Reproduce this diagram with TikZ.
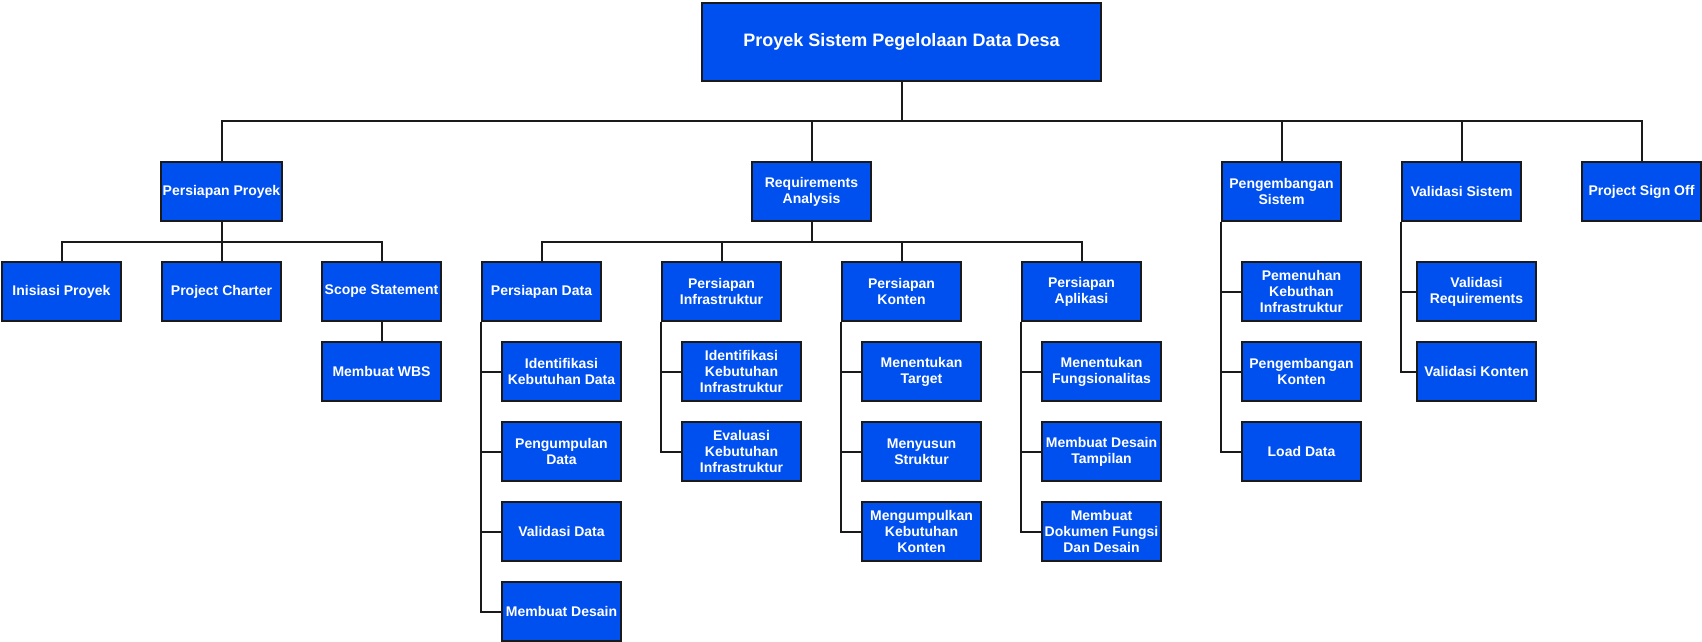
\documentclass[tikz,border=0pt]{standalone}
\usepackage{fontspec}
\setmainfont{Liberation Sans}
\usepackage{tikz}
\usetikzlibrary{calc}
\usetikzlibrary{positioning}

\definecolor{wbsblue}{HTML}{0050EF}
\definecolor{wbsline}{HTML}{1A1A1A}

\tikzset{
  wbsbox/.style={draw=wbsline, line width=1.5pt, fill=wbsblue, text=white,
    font=\fontsize{10.5}{12}\selectfont\bfseries, align=center,
    minimum width=89.25pt, minimum height=44.25pt, inner sep=1pt},
  rootbox/.style={wbsbox, font=\fontsize{13.5}{16}\selectfont\bfseries,
    minimum width=299.25pt, minimum height=58.5pt},
  wbslink/.style={draw=wbsline, line width=1.5pt}
}

\begin{document}
\begin{tikzpicture}[x=0.75pt,y=-0.75pt]
      \useasboundingbox (0,0) rectangle (1702,642);
      % root
      \node[rootbox] (root) at (901.5,41.7) {Proyek Sistem Pegelolaan Data Desa};
      % level 1
      \node[wbsbox] (pp) at (221.5,191.5) {Persiapan Proyek};
      \node[wbsbox] (ra) at (811.5,191.5) {Requirements\\Analysis};
      \node[wbsbox] (ps) at (1281.5,191.5) {Pengembangan\\Sistem};
      \node[wbsbox] (vs) at (1461.5,191.5) {Validasi Sistem};
      \node[wbsbox] (pso) at (1641.5,191.5) {Project Sign Off};
      % persiapan proyek
      \node[wbsbox] (ip) at (61.5,291.5) {Inisiasi Proyek};
      \node[wbsbox] (pc) at (221.5,291.5) {Project Charter};
      \node[wbsbox] (sst) at (381.5,291.5) {Scope Statement};
      \node[wbsbox] (wbs) at (381.5,371.5) {Membuat WBS};
      % requirements analysis
      \node[wbsbox] (pd) at (541.5,291.5) {Persiapan Data};
      \node[wbsbox] (pi) at (721.5,291.5) {Persiapan\\Infrastruktur};
      \node[wbsbox] (pk) at (901.5,291.5) {Persiapan\\Konten};
      \node[wbsbox] (pa) at (1081.5,291.5) {Persiapan\\Aplikasi};
      \node[wbsbox] (pd1) at (561.5,371.5) {Identifikasi\\Kebutuhan Data};
      \node[wbsbox] (pd2) at (561.5,451.5) {Pengumpulan\\Data};
      \node[wbsbox] (pd3) at (561.5,531.5) {Validasi Data};
      \node[wbsbox] (pd4) at (561.5,611.5) {Membuat Desain};
      \node[wbsbox] (pi1) at (741.5,371.5) {Identifikasi\\Kebutuhan\\Infrastruktur};
      \node[wbsbox] (pi2) at (741.5,451.5) {Evaluasi\\Kebutuhan\\Infrastruktur};
      \node[wbsbox] (pk1) at (921.5,371.5) {Menentukan\\Target};
      \node[wbsbox] (pk2) at (921.5,451.5) {Menyusun\\Struktur};
      \node[wbsbox] (pk3) at (921.5,531.5) {Mengumpulkan\\Kebutuhan\\Konten};
      \node[wbsbox] (pa1) at (1101.5,371.5) {Menentukan\\Fungsionalitas};
      \node[wbsbox] (pa2) at (1101.5,451.5) {Membuat Desain\\Tampilan};
      \node[wbsbox] (pa3) at (1101.5,531.5) {Membuat\\Dokumen Fungsi\\Dan Desain};
      % pengembangan sistem
      \node[wbsbox] (ps1) at (1301.5,291.5) {Pemenuhan\\Kebuthan\\Infrastruktur};
      \node[wbsbox] (ps2) at (1301.5,371.5) {Pengembangan\\Konten};
      \node[wbsbox] (ps3) at (1301.5,451.5) {Load Data};
      % validasi sistem
      \node[wbsbox] (vs1) at (1476.5,291.5) {Validasi\\Requirements};
      \node[wbsbox] (vs2) at (1476.5,371.5) {Validasi Konten};

      % buses
      \coordinate (bus0) at ($(root.south)+(0,39.5)$);
      \coordinate (bus1) at ($(pp.south)+(0,19.5)$);
      \coordinate (bus2) at ($(ra.south)+(0,19.5)$);
      \foreach \c in {pp,ra,ps,vs,pso}
        \draw[wbslink] (root.south) -- (bus0) -| (\c.north);
      \foreach \c in {ip,pc,sst}
        \draw[wbslink] (pp.south) -- (bus1) -| (\c.north);
      \foreach \c in {pd,pi,pk,pa}
        \draw[wbslink] (ra.south) -- (bus2) -| (\c.north);
      \draw[wbslink] (sst) -- (wbs);
      % side brackets
      \foreach \p/\c in {pd/pd1,pd/pd2,pd/pd3,pd/pd4,pi/pi1,pi/pi2,pk/pk1,pk/pk2,pk/pk3,
          pa/pa1,pa/pa2,pa/pa3,ps/ps1,ps/ps2,ps/ps3,vs/vs1,vs/vs2}
        \draw[wbslink] (\p.south west) |- (\c.west);
    \end{tikzpicture}
\end{document}
